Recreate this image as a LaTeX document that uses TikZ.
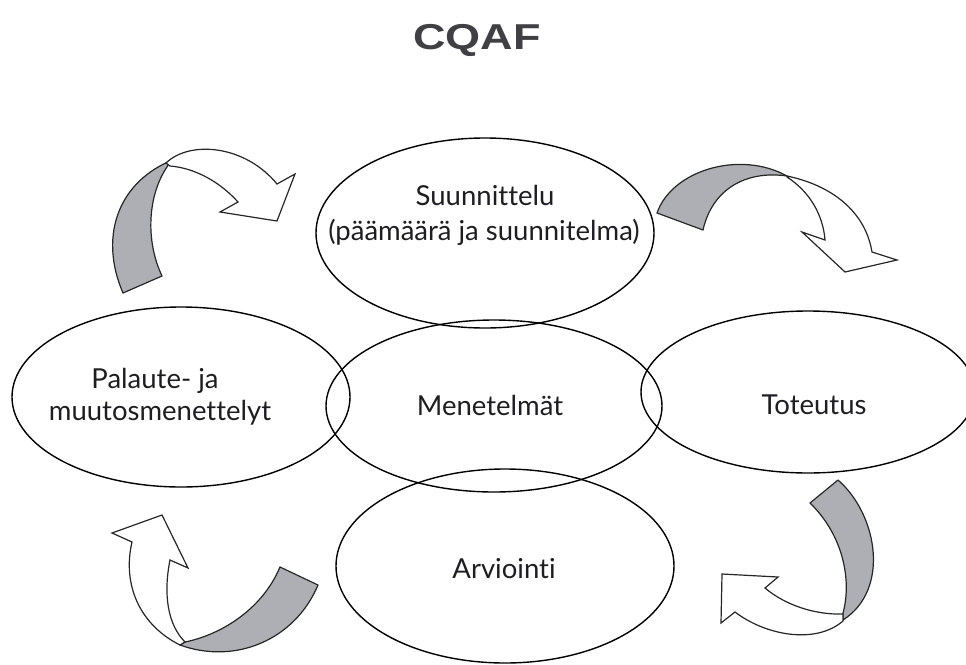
\documentclass[tikz,border=0pt]{standalone}
\usepackage{fontspec}
\newfontfamily\labelfont[Ligatures=NoCommon]{Lato}
\newfontfamily\titlefont{Liberation Sans}
\usetikzlibrary{shapes.geometric}
\definecolor{ribbongray}{RGB}{174,175,180}
\definecolor{titlegray}{RGB}{64,64,68}
\definecolor{inkcol}{RGB}{30,30,34}
\begin{document}
\begin{tikzpicture}[x=1pt,y=-1pt,
  oval/.style={ellipse, draw=black, line width=1.4pt, inner sep=0pt},
  lbl/.style={anchor=base, inner sep=0pt, text=inkcol, font=\labelfont\fontsize{27.5}{32}\selectfont},
  ribbon/.style={fill=ribbongray, draw=black!85, line width=1.2pt, line join=round},
  arrowbody/.style={fill=white, draw=black!85, line width=1.2pt, line join=miter}]
\useasboundingbox (0,0) rectangle (966,664);
\clip (0,0) rectangle (966,664);

% title
\node[anchor=base, inner sep=0pt, text=titlegray, xscale=1.25,
  font=\titlefont\bfseries\fontsize{36}{40}\selectfont] (title) at (477,49) {CQAF};

% the five ellipses
\node[oval, minimum width=338pt, minimum height=190pt] (plan) at (485,233) {};
\node[oval, minimum width=336pt, minimum height=172pt] (methods) at (494,406) {};
\node[oval, minimum width=338pt, minimum height=180pt] (feedback) at (181,397) {};
\node[oval, minimum width=334pt, minimum height=162pt] (impl) at (808,392) {};
\node[oval, minimum width=338pt, minimum height=194pt] (eval) at (505,566) {};

% labels
\node[lbl] (planA) at (485,205) {Suunnittelu};
\node[lbl] (planB) at (484,240) {(päämäärä ja suunnitelma)};
\node[lbl] (methodsA) at (490,415) {Menetelmät};
\node[lbl] (evalA) at (504,578) {Arviointi};
\node[lbl] (implA) at (814,414) {Toteutus};
\node[lbl] (feedbackA) at (155,388) {Palaute- ja};
\node[lbl] (feedbackB) at (160,420) {muutosmenettelyt};

% top-left twisted arrow
\draw[ribbon] (123,293) .. controls (100,240) and (115,185) .. (170,161)
  -- (167,167) .. controls (148,195) and (145,240) .. (162,276) -- cycle;
\draw[arrowbody] (166,163) .. controls (190,140) and (245,145) .. (277,184)
  -- (295,174) -- (277,221) -- (220,212) -- (238,202)
  .. controls (220,182) and (195,168) .. (170,166) -- cycle;

% top-right twisted arrow
\draw[ribbon] (657,213) .. controls (672,170) and (740,150) .. (787,176)
  .. controls (745,170) and (712,190) .. (703,230) -- cycle;
\draw[arrowbody] (787,176) .. controls (830,185) and (865,210) .. (872,252)
  -- (897,260) -- (845,272) -- (802,232) -- (825,240)
  .. controls (823,215) and (810,192) .. (787,177) -- cycle;

% bottom-right twisted arrow
\draw[ribbon] (810,503) -- (838,480) .. controls (878,515) and (890,590) .. (843,620)
  -- (843,613) .. controls (852,580) and (843,535) .. (810,503) -- cycle;
\draw[arrowbody] (843,614) .. controls (815,615) and (785,605) .. (765,588)
  -- (778,577) -- (722,574) -- (721,623) -- (735,612)
  .. controls (765,635) and (815,645) .. (843,621) -- cycle;

% bottom-left twisted arrow
\draw[ribbon] (280,567) -- (318,585) .. controls (295,640) and (235,665) .. (180,645)
  -- (185,642) .. controls (220,635) and (262,610) .. (280,567) -- cycle;
\draw[arrowbody] (180,645) .. controls (140,625) and (122,585) .. (132,542)
  -- (112,533) -- (162,515) -- (188,568) -- (170,560)
  .. controls (163,595) and (168,625) .. (185,642) -- cycle;
\end{tikzpicture}
\end{document}
